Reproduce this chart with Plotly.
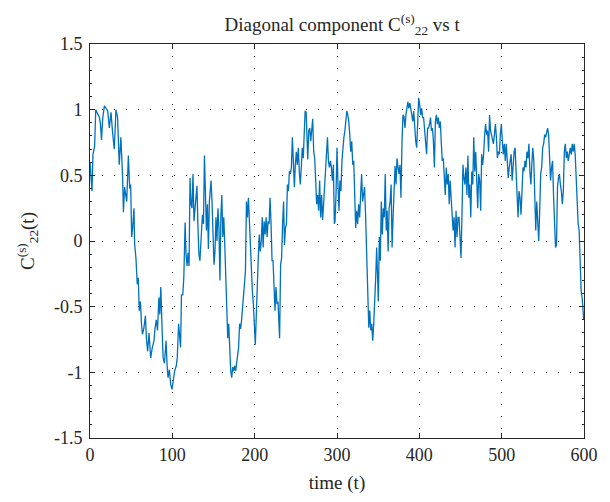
import plotly.graph_objects as go

# ---- data ----
t_vals = [0, 2.4, 3.6, 5.6, 7, 9.5, 11.5, 12.7, 14, 15.5, 17.5, 19.5, 21.5, 23.5, 25.5, 27.5, 29.5, 31.5, 33.5, 35.5,
          37.5, 39.5, 40.6, 42, 44.6, 46.6, 48.2, 49.4, 50.6, 51.8, 53.4, 54.2, 55.8, 57.4, 58.6, 59.8, 61.3, 62.5,
          63.7, 65.3, 67.3, 68.5, 70,
          71.7, 73.7, 75.7, 77.7, 78.9, 80.5, 82, 83.7, 84.8, 86, 87.6, 88.8, 90.4, 92.4, 93.6, 94.8, 96.4, 98, 99.6,
          101.2, 102.8, 104.8, 106, 107.6, 108.8, 110, 111.1, 112.7, 114, 114.7, 115.5, 116.7, 117.9, 119.1, 120.3,
          121.5, 122.7, 123.9, 125.1, 126.3, 127.5, 128.7, 129.9, 131, 132.3, 133.5, 134.2, 135.5, 136.6, 137.8, 139,
          140.2, 141.4, 142.6, 143.8, 145, 146.2,
          147, 148.2, 149.4, 150.6, 151.8, 153, 154.2, 155.4, 156.6, 157.8, 159, 160.1, 161.3, 162.5, 163.7, 164.9,
          166.1, 167.3, 168.5, 169.7, 170.9, 172.1, 173.3, 174.5, 175.7, 176.9, 178.1, 179.3, 180.5, 181.7, 182.9,
          184, 185.2, 186.4, 187.6, 188.8, 190, 191.2, 192.4, 193.6, 194.8, 196, 197.2, 198.4, 199.6, 200.8, 202,
          203.2, 204.4, 205.6, 206.8, 208, 209.2, 210.3, 211.5, 212.7, 213.9, 215.1, 216.3, 217.5, 218.7, 219.9, 221.1,
          222.3, 223.5, 224.7, 225.9, 227.1, 228.3, 229.5, 230.3, 231.5, 232.7, 233.9, 235.1, 236.2, 237.4, 238.6,
          239.8, 241, 242.2, 243.4, 244.6, 245.8, 247, 248.2, 249.4, 250.6, 251.8, 253, 254.2, 255.4, 256.6, 257.8,
          259, 260.1, 261.3, 262.5, 263.7, 264.5, 265.7, 266.9, 268.1, 269.3, 270.5, 271.7, 272.9, 274.1, 275.3,
          276.5, 277.7, 278.9, 280.1, 281.3, 282.5, 283.7, 284.9, 286.1, 287.2, 288.4, 289.6, 290.8, 292, 293.2,
          294.4, 295.6, 296.8,
          297.6, 298.8, 300, 301.2, 302.4, 303.6, 304.8, 306, 307.2, 308.4, 309.6, 310.7, 311.9, 313.1, 314.3, 315.5,
          316.7, 317.9, 319.1, 320.3, 321.5, 322.7, 323.9, 325.1, 326.3, 327.5, 328.7, 329.9, 331.1, 332.3, 333.5,
          334.7, 335.8, 337, 337.8, 338.6, 339.8, 341, 342.2, 343.4, 344.6, 345.8, 347, 348.2, 349.4, 350.2, 351.4,
          352.6, 353.8, 355, 356.2, 357.4, 358.6, 359.8, 360.9, 362.1, 363.3, 364.5, 365.7, 366.9, 368.1, 369.3,
          370.5, 371.7,
          372.9, 374.1, 375.3, 376.5, 377.7, 378.9, 380.1, 381.3, 382.5, 383.7, 384.9, 386.1, 387.2, 388.4, 389.6,
          390.8, 392, 393.2, 394.4, 395.6, 396.8, 398, 399.2, 400.4, 401.6, 402.8, 404, 405.2, 406.4, 407.6, 408.8,
          410, 411.2, 412.4, 413.6, 414.7, 415.9, 417.1, 418.3, 419.5, 420.7, 421.9, 423.1, 424.3, 425.5, 426.7,
          427.9, 429.1, 430.3, 431.5, 432.7, 433.9, 435.1, 436.3, 437.4, 438.6, 439.8, 441, 442.2, 443.4, 444.6,
          445.8, 447,
          448.2, 449.4, 450.6, 451.8, 453, 454.2, 455.4, 456.6, 457.8, 459, 460.2, 461.3, 462.5, 463.7, 464.9, 466.1,
          467.3, 468.5, 469.7, 470.9, 472.1, 473.3, 474.5, 475.7, 476.9, 478.1, 479.3, 480.5, 481.7, 482.9, 484.1,
          485.3, 486.5, 487.7, 488.8, 490, 491.2, 492.4, 493.6, 494.8, 496, 497.2, 498.4, 499.6, 500.8, 502, 503.2,
          504.4, 505.6, 506.8, 508, 509.2, 510.4, 511.5, 512.7, 513.9, 515.1, 516.3, 517.5, 518.7, 519.9, 521.1, 522.3,
          523.5, 524.7, 525.9, 527.1, 528.3, 529.5, 530.7, 531.9, 533.1, 534.3, 535.5, 536.6, 537.8, 539, 540.2,
          541.4, 542.6, 543.8, 545, 546.2, 547.4, 548.6, 549.8, 551, 552.2, 553.4, 554.6, 555.8, 557, 558.2, 559.4,
          560.6, 561.8, 563, 564.2, 565.4, 566.6, 567.8, 569, 570.2, 571.3, 572.5, 573.7, 574.9, 576.1, 577.3, 578.5,
          579.7, 580.9, 582.1, 583.3, 584.5, 585.7, 586.9, 588.1, 589.3, 590.5, 591.7, 592.9, 594.1, 595.3, 596.5,
          597.7, 598.9, 599.7]

c22_vals = [0.60, 0.38, 0.66, 0.72, 1.0, 0.97, 0.94, 0.89, 0.77, 0.94, 1.03, 1.01, 0.99, 0.86, 0.98, 0.82, 0.70, 1.0,
            0.94, 0.58, 0.79, 0.5, 0.22, 0.41, 0.3, 0.65, 0.4, 0.43, 0.03, 0.1, 0.25, -0.02, -0.13, -0.33, -0.28,
            -0.53, -0.46, -0.63, -0.71, -0.67, -0.57, -0.74, -0.84,
            -0.70, -0.89, -0.81, -0.76, -0.67, -0.60, -0.68, -0.43, -0.56, -0.35, -0.68, -0.89, -0.93, -0.76, -0.94,
            -1.04, -0.98, -1.09, -1.13, -1.04, -0.99, -0.95, -0.89, -0.63, -0.76, -0.81, -0.41, -0.41, -0.27, -0.10,
            0.14, -0.10, -0.19, -0.09, -0.19, 0.48, 0.28, 0.25, 0.51, 0.15, 0.23, 0.33, 0.42, 0.13, -0.10, -0.15,
            -0.03, 0.08, 0.2, 0.13, 0.65, 0.35, 0.08, 0.28, -0.06, 0.3, 0.46,
            0.46, 0.3, -0.05, -0.18, -0.08, 0.18, 0, 0.25, 0.1, -0.3, 0.2, 0.35, 0.03, 0.18, -0.03, -0.33, -0.43,
            -0.74, -0.63, -0.86, -0.99, -1.04, -0.96, -0.99, -0.95, -0.99, -0.94, -0.89, -0.81, -0.63, -0.67, -0.61,
            -0.51, -0.46, -0.30, -0.23, 0.30, 0.18, 0.33, 0.13, 0, -0.15, -0.38, -0.48, -0.63, -0.79, -0.56, -0.28,
            -0.13, 0.05, -0.08, 0, 0.18, -0.05, 0.15, 0.05, 0.18, 0.03, 0.15, 0.13, 0.33, 0.13, -0.15,
            -0.15, -0.43, -0.53, -0.35, -0.48, -0.46, -0.63, -0.74, -0.18, -0.13, 0.13, 0.3, -0.03, 0.1, 0.13, 0.43,
            0.38, 0.53, 0.51, 0.56, 0.79, 0.51, 0.41, 0.58, 0.68, 0.58, 0.71, 0.53, 0.43, 0.56, 0.71, 0.63, 0.91,
            0.99, 0.98, 0.74, 0.62, 0.84, 0.86, 0.76, 0.86, 0.93, 0.68, 0.63, 0.46, 0.28, 0.35, 0.23, 0.46, 0.18,
            0.35, 0.16, 0.28, 0.43, 0.58, 0.63, 0.79, 0.61, 0.56, 0.61, 0.56, 0.46, 0.58, 0.13,
            0.15, 0.35, 0.71, 0.43, 0.23, 0.46, 0.38, 0.61, 0.74, 0.79, 0.84, 0.94, 0.99, 0.96, 0.91, 0.81, 0.68,
            0.76, 0.58, 0.61, 0.38, 0.1, 0.23, 0.13, 0.28, 0.18, 0.35, 0.51, 0.3, 0.38, 0.41, 0.2, -0.08, -0.38,
            -0.56, -0.66, -0.53, -0.68, -0.63, -0.76, -0.63, -0.48, -0.28, -0.05, -0.33, -0.46, 0.03, -0.15, 0.3,
            0.05, 0.25, 0.18, 0.51, 0.08, 0.23, -0.08, 0.25, 0.3, 0.43, -0.05, 0.18, 0.38, 0.57, 0.43,
            0.63, 0.56, 0.51, 0.58, 0.33, 0.74, 0.96, 0.95, 0.86, 0.96, 1.01, 1.06, 1.01, 1.05, 1.01, 0.96, 0.91,
            0.99, 0.84, 0.76, 0.71, 0.96, 1.09, 1.04, 0.96, 1.01, 0.94, 0.94, 0.86, 0.79, 0.66, 0.86, 0.86, 0.89,
            0.94, 0.84, 0.86, 0.76, 0.56, 0.91, 0.96, 0.89, 0.94, 0.86, 0.91, 0.74, 0.61, 0.63, 0.51, 0.35, 0.56,
            0.43, 0.51, 0.28, 0.46, 0.3, 0.15, 0.08, 0.18, -0.05, 0.23, 0.03, 0.18,
            0.18, 0.03, -0.13, 0.2, 0.58, 0.48, 0.43, 0.56, 0.35, 0.65, 0.33, 0.43, 0.18, 0.53, 0.43, 0.79, 0.53,
            0.68, 0.41, 0.25, 0.51, 0.46, 0.23, 0.66, 0.58, 0.66, 0.81, 0.89, 0.81, 0.84, 0.68, 0.96, 0.84, 0.81,
            0.76, 0.74, 0.81, 0.89, 0.79, 0.63, 0.68, 0.66, 0.81, 0.89, 0.76, 0.66, 0.74, 0.61, 0.74, 0.53, 0.48,
            0.56, 0.61, 0.66, 0.46, 0.58, 0.68, 0.71, 0.53, 0.38, 0.18, 0.38, 0.33,
            0.2, 0.35, 0.56, 0.53, 0.61, 0.56, 0.68, 0.63, 0.74, 0.53, 0.43, 0.58, 0.71, 0.61, 0.35, 0.08, 0.3, 0.08,
            0, 0.23, 0.51, 0.56, 0.71, 0.74, 0.81, 0.79, 0.84, 0.86, 0.81, 0.63, 0.46, 0.56, 0.61, 0.35, 0.13, -0.05,
            -0.03, 0.41, 0.48, 0.51, 0.43, 0.38, 0.28, 0.38, 0.68, 0.74, 0.63, 0.68, 0.61, 0.66, 0.71, 0.66, 0.74,
            0.68, 0.74, 0.66, 0.43, 0.33, 0.13, 0.08, -0.15, -0.38, -0.43, -0.50, -0.60]

x_ticks = [0, 100, 200, 300, 400, 500, 600]
y_ticks = [-1.5, -1, -0.5, 0, 0.5, 1, 1.5]
y_tick_text = ["-1.5", "-1", "-0.5", "0", "0.5", "1", "1.5"]

FONT = "Liberation Serif"
INK = "#262626"

fig = go.Figure()
fig.add_trace(go.Scatter(x=t_vals, y=c22_vals, mode="lines",
                         line=dict(color="#0072BD", width=1.3), showlegend=False))

axis_common = dict(showline=True, linecolor=INK, linewidth=1, mirror="ticks",
                   ticks="inside", ticklen=5, tickcolor=INK,
                   showgrid=True, gridcolor=INK, gridwidth=1, griddash="1px,11px",
                   zeroline=False, tickfont=dict(family=FONT, size=18, color=INK))

fig.update_xaxes(range=[0, 600], tickvals=x_ticks, **axis_common,
                 title=dict(text="time (t)", font=dict(family=FONT, size=19, color=INK), standoff=12))
fig.update_yaxes(range=[-1.5, 1.5], tickvals=y_ticks, ticktext=y_tick_text, **axis_common,
                 ticklabelstandoff=3,
                 minor=dict(dtick=0.1, ticks="inside", ticklen=2, tickcolor=INK, showgrid=False),
                 title=dict(text="C<sup>(s)</sup><sub>22</sub>(t)",
                            font=dict(family=FONT, size=19, color=INK), standoff=14))

# page body has an 8px default margin, so the figure is sized to fit inside it
fig.update_layout(
    width=602, height=494,
    margin=dict(l=82, r=18, t=36, b=63),
    paper_bgcolor="white", plot_bgcolor="white",
    title=dict(text="Diagonal component C<sup>(s)</sup><sub>22</sub> vs t",
               font=dict(family=FONT, size=19, color=INK),
               x=0.555, xanchor="center", y=0.98, yanchor="top"),
)

fig.write_html("out.html")
